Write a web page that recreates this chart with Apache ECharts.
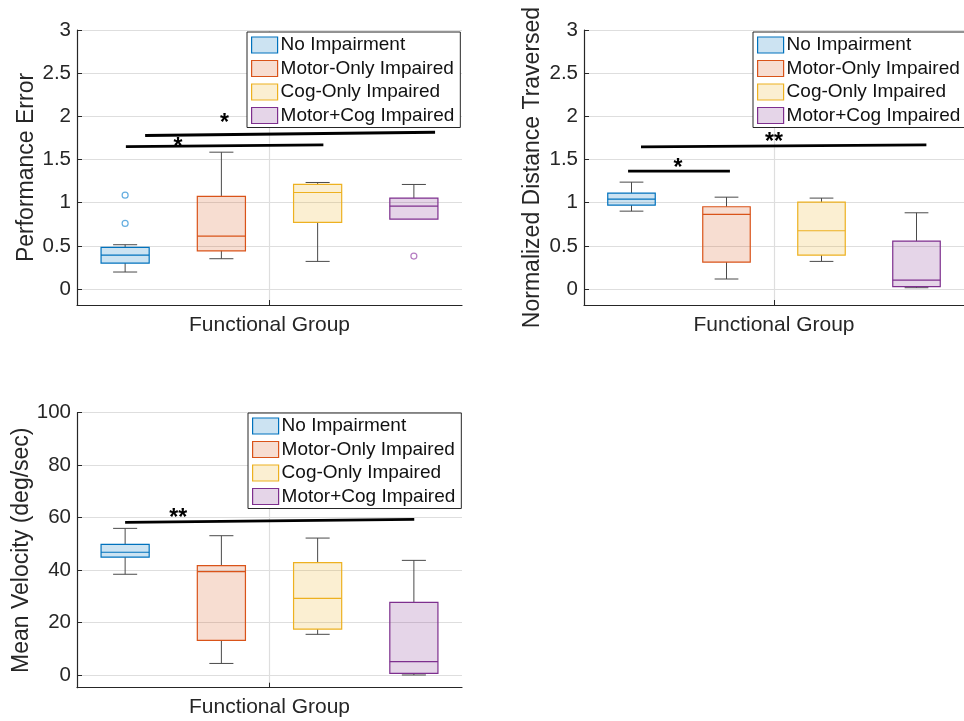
<!DOCTYPE html>
<html>
<head>
<meta charset="utf-8">
<script src="https://cdn.jsdelivr.net/npm/echarts@6/dist/echarts.min.js"></script>
<style>
  html, body { margin: 0; padding: 0; background: #fff; }
  #chart { width: 964px; height: 721px; }
</style>
</head>
<body>
<div id="chart"></div>
<script>
// Group names (legend order) and colours
const groups = ['No Impairment', 'Motor-Only Impaired', 'Cog-Only Impaired', 'Motor+Cog Impaired'];
const edgeColors = ['#0072BD', '#D95319', '#EDB120', '#7E2F8E'];
const faceColors = ['rgba(0,114,189,0.2)', 'rgba(217,83,25,0.2)', 'rgba(237,177,32,0.2)', 'rgba(126,47,142,0.2)'];
const outlierColors = ['#3f9ad8', '#e07a4d', '#f0c04f', '#a35bb3'];

// Box statistics per group: [lower whisker, Q1, median, Q3, upper whisker]
const errorStats = [
  [0.197, 0.300, 0.393, 0.482, 0.513],
  [0.351, 0.443, 0.613, 1.072, 1.585],
  [0.320, 0.771, 1.118, 1.211, 1.234],
  [0.810, 0.810, 0.960, 1.053, 1.211]
];
const errorOutliers = [[1.087, 0.760], [], [], [0.382]];

const distanceStats = [
  [0.902, 0.972, 1.041, 1.111, 1.238],
  [0.116, 0.312, 0.864, 0.953, 1.064],
  [0.320, 0.393, 0.675, 1.006, 1.053],
  [0.015, 0.027, 0.104, 0.555, 0.883]
];
const distanceOutliers = [[], [], [], []];

const velocityStats = [
  [38.4, 44.9, 46.8, 49.8, 55.9],
  [4.4, 13.2, 39.4, 41.7, 53.1],
  [15.5, 17.5, 29.2, 42.8, 52.2],
  [0.0, 0.6, 5.1, 27.7, 43.7]
];
const velocityOutliers = [[], [], [], []];

// Significance bars: [x start, y start, x end, y end] and markers: [x, y, text]
const errorBars = [[0.127, 1.650, 0.640, 1.670], [0.177, 1.778, 0.930, 1.816]];
const errorMarks = [[0.383, 1.979, '*'], [0.262, 1.708, '*']];
const distanceBars = [[0.116, 1.365, 0.384, 1.365], [0.150, 1.647, 0.901, 1.670]];
const distanceMarks = [[0.247, 1.466, '*'], [0.500, 1.759, '**']];
const velocityBars = [[0.125, 58.2, 0.876, 59.3]];
const velocityMarks = [[0.263, 61.9, '**']];

// Axis text
const xTitle = 'Functional Group';
const yTitles = ['Performance Error', 'Normalized Distance Traversed', 'Mean Velocity (deg/sec)'];

const FONT = '"Liberation Sans", Arial, Helvetica, sans-serif';
const INK = '#262626';
const GRID = '#dedede';
const BOX_W = 0.125;

const panels = [
  { stats: errorStats, outliers: errorOutliers, bars: errorBars, marks: errorMarks, yTitle: yTitles[0],
    yMin: -0.185, yMax: 3, yStep: 0.5, grid: { left: 77, top: 30, width: 385, height: 275 },
    legend: { left: 247, top: 32 }, yNameGap: 39, xNameGap: 10 },
  { stats: distanceStats, outliers: distanceOutliers, bars: distanceBars, marks: distanceMarks, yTitle: yTitles[1],
    yMin: -0.185, yMax: 3, yStep: 0.5, grid: { left: 584, top: 30, width: 385, height: 275 },
    legend: { left: 753, top: 32 }, yNameGap: 40, xNameGap: 10 },
  { stats: velocityStats, outliers: velocityOutliers, bars: velocityBars, marks: velocityMarks, yTitle: yTitles[2],
    yMin: -4.85, yMax: 100, yStep: 20, grid: { left: 77, top: 412.7, width: 385, height: 275 },
    legend: { left: 248, top: 413 }, yNameGap: 43, xNameGap: 9 }
];

function groupCenter(i) { return (i + 0.5) / groups.length; }

function renderBox(params, api) {
  const x = api.value(0);
  const lo = api.coord([x, api.value(1)]);
  const q1 = api.coord([x, api.value(2)]);
  const md = api.coord([x, api.value(3)]);
  const q3 = api.coord([x, api.value(4)]);
  const hi = api.coord([x, api.value(5)]);
  const g = api.value(6);
  const half = api.size([BOX_W, 0])[0] / 2;
  const cap = half / 2;
  const whisker = { stroke: '#4a4a4a', lineWidth: 1 };
  const children = [];
  if (hi[1] < q3[1] - 0.5) {
    children.push({ type: 'line', shape: { x1: hi[0], y1: hi[1], x2: hi[0], y2: q3[1] }, style: whisker });
    children.push({ type: 'line', shape: { x1: hi[0] - cap, y1: hi[1], x2: hi[0] + cap, y2: hi[1] }, style: whisker });
  }
  if (lo[1] > q1[1] + 0.5) {
    children.push({ type: 'line', shape: { x1: lo[0], y1: q1[1], x2: lo[0], y2: lo[1] }, style: whisker });
    children.push({ type: 'line', shape: { x1: lo[0] - cap, y1: lo[1], x2: lo[0] + cap, y2: lo[1] }, style: whisker });
  }
  children.push({ type: 'rect', shape: { x: q3[0] - half, y: q3[1], width: half * 2, height: q1[1] - q3[1] },
    style: { fill: faceColors[g], stroke: edgeColors[g], lineWidth: 1.2 } });
  children.push({ type: 'line', shape: { x1: md[0] - half, y1: md[1], x2: md[0] + half, y2: md[1] },
    style: { stroke: edgeColors[g], lineWidth: 1.2 } });
  return { type: 'group', children: children };
}

function renderBar(params, api) {
  const a = api.coord([api.value(0), api.value(1)]);
  const b = api.coord([api.value(2), api.value(3)]);
  return { type: 'line', shape: { x1: a[0], y1: a[1], x2: b[0], y2: b[1] },
    style: { stroke: '#000', lineWidth: 2.8 } };
}

function makeMarkRenderer(marks) {
  return function (params, api) {
    const p = api.coord([api.value(0), api.value(1)]);
    return { type: 'text', style: { text: marks[params.dataIndex][2], x: p[0], y: p[1] + 6,
      fill: '#000', font: 'bold 23px ' + FONT, align: 'center', verticalAlign: 'middle' } };
  };
}

const option = { animation: false, backgroundColor: '#fff', grid: [], xAxis: [], yAxis: [], legend: [], series: [] };

panels.forEach(function (p, k) {
  option.grid.push(Object.assign({ containLabel: false }, p.grid));
  option.xAxis.push({
    gridIndex: k, type: 'value', min: 0, max: 1, interval: 0.5,
    name: xTitle, nameLocation: 'middle', nameGap: p.xNameGap,
    nameTextStyle: { fontFamily: FONT, fontSize: 21, color: INK, verticalAlign: 'top' },
    axisLine: { onZero: false, lineStyle: { color: INK, width: 1.2 } },
    axisTick: { show: true, inside: true, length: 5, customValues: [0.5], lineStyle: { color: INK } },
    axisLabel: { show: false, customValues: [0.5] },
    splitLine: { show: true, lineStyle: { color: GRID, width: 1.2 } }
  });
  option.yAxis.push({
    gridIndex: k, type: 'value', min: p.yMin, max: p.yMax, minInterval: p.yStep, maxInterval: p.yStep,
    name: p.yTitle, nameLocation: 'middle', nameGap: p.yNameGap, nameRotate: 90,
    nameTextStyle: { fontFamily: FONT, fontSize: 23, color: INK },
    axisLine: { show: true, onZero: false, lineStyle: { color: INK, width: 1.2 } },
    axisTick: { show: true, inside: true, length: 5, lineStyle: { color: INK } },
    axisLabel: { showMinLabel: false, fontFamily: FONT, fontSize: 20.5, color: INK, margin: 6 },
    splitLine: { show: true, showMinLine: false, lineStyle: { color: GRID, width: 1.2 } }
  });
  option.legend.push({
    left: p.legend.left, top: p.legend.top, orient: 'vertical',
    backgroundColor: '#fff', borderColor: INK, borderWidth: 1, borderRadius: 0,
    padding: [3, 6, 2, 4], itemGap: 3.5, itemWidth: 26, itemHeight: 16, icon: 'rect',
    selectedMode: false, z: 10,
    textStyle: { fontFamily: FONT, fontSize: 19, color: '#111', lineHeight: 20, padding: [0, 0, 0, -2] },
    data: groups.map(function (name, g) {
      return { name: name, itemStyle: { color: faceColors[g], borderColor: edgeColors[g], borderWidth: 1.2 } };
    })
  });
  groups.forEach(function (name, g) {
    const s = p.stats[g];
    option.series.push({
      type: 'custom', name: name, xAxisIndex: k, yAxisIndex: k, renderItem: renderBox,
      encode: { x: 0, y: [1, 2, 3, 4, 5] },
      data: [[groupCenter(g), s[0], s[1], s[2], s[3], s[4], g]], z: 3
    });
    if (p.outliers[g].length) {
      option.series.push({
        type: 'scatter', name: name, xAxisIndex: k, yAxisIndex: k, symbol: 'circle', symbolSize: 6,
        itemStyle: { color: 'rgba(255,255,255,0)', borderColor: outlierColors[g], borderWidth: 1.2 },
        data: p.outliers[g].map(function (v) { return [groupCenter(g), v]; }), z: 4
      });
    }
  });
  option.series.push({
    type: 'custom', xAxisIndex: k, yAxisIndex: k, renderItem: renderBar,
    encode: { x: [0, 2], y: [1, 3] }, data: p.bars, z: 5
  });
  option.series.push({
    type: 'custom', xAxisIndex: k, yAxisIndex: k, renderItem: makeMarkRenderer(p.marks),
    encode: { x: 0, y: 1 }, data: p.marks.map(function (m) { return [m[0], m[1]]; }), z: 6
  });
});

const chart = echarts.init(document.getElementById('chart'), null, { renderer: 'canvas' });
chart.setOption(option);
</script>
</body>
</html>
